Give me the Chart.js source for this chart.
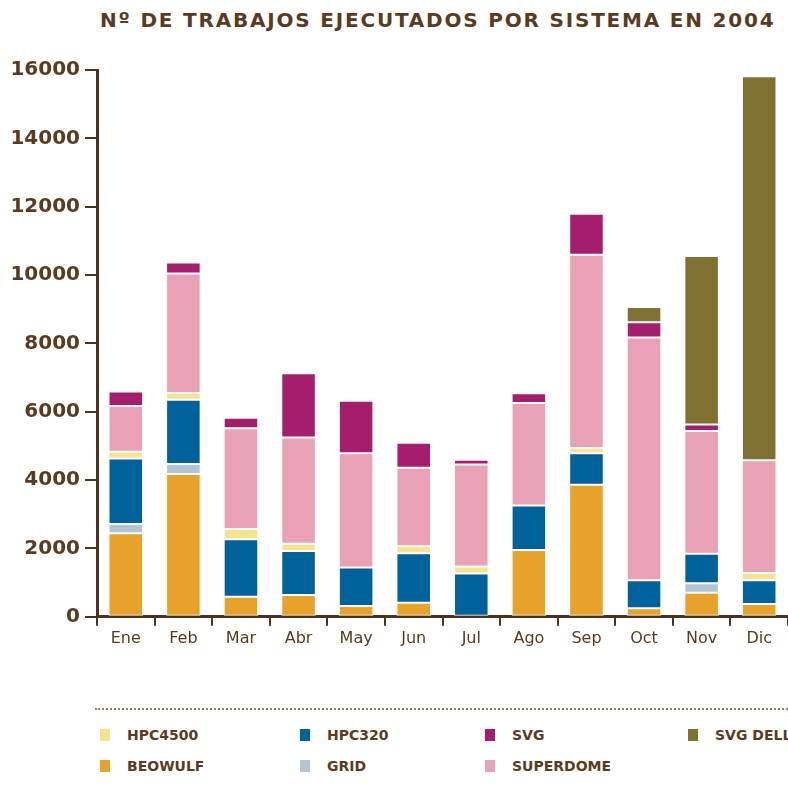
<!DOCTYPE html>
<html>
<head>
<meta charset="utf-8">
<script src="https://cdn.jsdelivr.net/npm/chart.js@4/dist/chart.umd.min.js"></script>
<style>
  body { margin: 0; background: #fff; width: 788px; height: 787px; overflow: hidden; position: relative; font-family: "DejaVu Sans", sans-serif; color: #5b3b1f; }
  #title { position: absolute; left: 100px; top: 8px; font-size: 20px; font-weight: bold; letter-spacing: 1.8px; white-space: nowrap; }
  #wrap { position: absolute; left: 0; top: 0; width: 788px; height: 680px; }
  #rule { position: absolute; left: 95px; top: 708px; width: 693px; border-top: 2px dotted #9a7f63; }
  .item { position: absolute; font-size: 14px; font-weight: bold; white-space: nowrap; line-height: 16px; }
  .item span { position: absolute; left: 0; top: 2px; width: 10px; height: 12px; }
  .item b { margin-left: 27px; }
</style>
</head>
<body>
<div id="title">Nº DE TRABAJOS EJECUTADOS POR SISTEMA EN 2004</div>
<div id="wrap"><canvas id="chart"></canvas></div>
<div id="rule"></div>
<div id="legend"></div>
<script>
// meses
const months = ['Ene', 'Feb', 'Mar', 'Abr', 'May', 'Jun', 'Jul', 'Ago', 'Sep', 'Oct', 'Nov', 'Dic'];

// trabajos por sistema
const beowulf   = [2445, 4178, 587, 637, 314, 411, 0, 1958, 3866, 252, 704, 378];
const grid      = [270, 290, 0, 0, 0, 0, 0, 0, 0, 0, 280, 0];
const hpc320    = [1920, 1880, 1680, 1290, 1125, 1450, 1270, 1300, 920, 820, 860, 690];
const hpc4500   = [195, 200, 300, 210, 0, 200, 200, 0, 155, 0, 0, 210];
const superdome = [1340, 3500, 2950, 3110, 3350, 2300, 2990, 3000, 5650, 7100, 3590, 3300];
const svg       = [420, 320, 310, 1880, 1530, 730, 135, 285, 1200, 450, 190, 0];
const svgDell   = [0, 0, 0, 0, 0, 0, 0, 0, 0, 440, 4930, 11240];

const yTicks = [0, 2000, 4000, 6000, 8000, 10000, 12000, 14000, 16000];

const brown = '#5b3b1f';
const axisBrown = '#4b3320';

const series = [
  { label: 'BEOWULF', data: beowulf, color: '#e9a229' },
  { label: 'GRID', data: grid, color: '#b3c5d5' },
  { label: 'HPC320', data: hpc320, color: '#00619b' },
  { label: 'HPC4500', data: hpc4500, color: '#f7e290' },
  { label: 'SUPERDOME', data: superdome, color: '#e9a2b5' },
  { label: 'SVG', data: svg, color: '#a51e6e' },
  { label: 'SVG DELL', data: svgDell, color: '#7f7130' }
];

new Chart(document.getElementById('chart'), {
  type: 'bar',
  data: {
    labels: months,
    datasets: series.map(s => ({
      label: s.label,
      data: s.data,
      backgroundColor: s.color,
      borderColor: '#ffffff',
      borderWidth: 1,
      borderSkipped: false,
      categoryPercentage: 1,
      barPercentage: 0.6
    }))
  },
  options: {
    responsive: true,
    maintainAspectRatio: false,
    animation: false,
    layout: { padding: { top: 70, right: 0, left: 0, bottom: 29 } },
    plugins: {
      legend: { display: false },
      title: { display: false },
      tooltip: { enabled: false }
    },
    scales: {
      x: {
        stacked: true,
        border: { color: axisBrown, width: 3 },
        grid: { drawOnChartArea: false, color: axisBrown, lineWidth: 2, tickLength: 9 },
        ticks: { color: brown, font: { family: 'DejaVu Sans', size: 16 }, padding: 3 }
      },
      y: {
        stacked: true,
        min: 0,
        max: 16000,
        afterFit: s => { s.width = 97; },
        afterBuildTicks: s => { s.ticks = yTicks.map(v => ({ value: v })); },
        border: { color: axisBrown, width: 3 },
        grid: { drawOnChartArea: false, color: axisBrown, lineWidth: 2, tickLength: 12 },
        ticks: {
          color: brown,
          font: { family: 'DejaVu Sans', size: 20, weight: 'bold' },
          padding: 5,
          callback: v => String(v)
        }
      }
    }
  }
});

// leyenda en cuatro columnas
const legendPos = {
  'HPC4500': [100, 727], 'HPC320': [300, 727], 'SVG': [485, 727], 'SVG DELL': [688, 727],
  'BEOWULF': [100, 758], 'GRID': [300, 758], 'SUPERDOME': [485, 758]
};
const legend = document.getElementById('legend');
series.forEach(s => {
  const p = legendPos[s.label];
  const d = document.createElement('div');
  d.className = 'item';
  d.style.left = p[0] + 'px';
  d.style.top = p[1] + 'px';
  d.innerHTML = '<span style="background:' + s.color + '"></span><b>' + s.label + '</b>';
  legend.appendChild(d);
});
</script>
</body>
</html>
